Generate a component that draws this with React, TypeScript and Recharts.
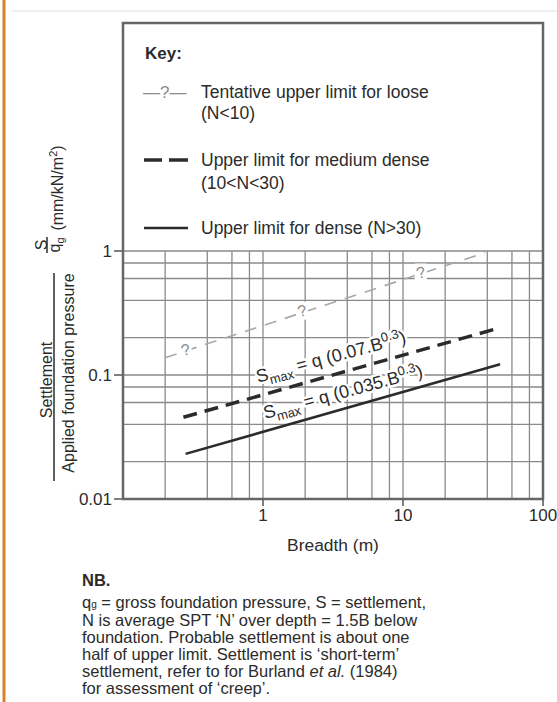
import React from "react";
import {
  ComposedChart,
  Line,
  XAxis,
  YAxis,
  CartesianGrid,
  ReferenceDot,
} from "recharts";

// grid + ticks (log-log)
const xGridValues = [0.2, 0.4, 0.6, 0.8, 1, 2, 4, 6, 8, 10, 20, 40, 60, 80];
const yGridValues = [0.02, 0.04, 0.06, 0.08, 0.1, 0.2, 0.4, 0.6, 0.8, 1];
const xTicks = [1, 10, 100];
const yTicks = [0.01, 0.1, 1];

// upper limit lines (breadth m, S/qg)
const looseLimit = [
  { x: 0.2, y: 0.138 },
  { x: 38.5, y: 0.969 },
];
const mediumLimit = [
  { x: 0.27, y: 0.0456 },
  { x: 45.8, y: 0.235 },
];
const denseLimit = [
  { x: 0.28, y: 0.0231 },
  { x: 49.4, y: 0.122 },
];

// "?" marks along the loose line
const looseQueries = [
  { x: 0.28, y: 0.16 },
  { x: 1.9, y: 0.33 },
  { x: 13.4, y: 0.67 },
];

// formula labels
const formulaLabels = [
  { x: 3.06, y: 0.14, coef: "0.07" },
  { x: 3.73, y: 0.073, coef: "0.035" },
];

const FONT = '"Liberation Sans", Arial, Helvetica, sans-serif';
const INK = "#2b2b2b";
const GRID = "#8a8a8a";

function QueryMark(props: any) {
  const { cx, cy } = props;
  return (
    <g>
      <rect x={cx - 6} y={cy - 9} width={12} height={18} fill="#fff" />
      <text
        x={cx}
        y={cy}
        textAnchor="middle"
        dominantBaseline="central"
        fontSize={16}
        fill="#8c8c8c"
        fontFamily={FONT}
        transform={`rotate(-15 ${cx} ${cy})`}
      >
        ?
      </text>
    </g>
  );
}

function formulaText(coef: string) {
  return [
    "S",
    <tspan key="a" fontSize={13} dy={5}>
      max
    </tspan>,
    <tspan key="b" dy={-5}>{` = q (${coef}.B`}</tspan>,
    <tspan key="c" fontSize={13} dy={-7}>
      0.3
    </tspan>,
    <tspan key="d" dy={7}>
      )
    </tspan>,
  ];
}

function FormulaLabel(props: any) {
  const { cx, cy, coef } = props;
  const common = {
    x: cx,
    y: cy + 6,
    textAnchor: "middle" as const,
    transform: `rotate(-15 ${cx} ${cy})`,
    fontSize: 18,
    fontFamily: FONT,
  };
  return (
    <g>
      <text {...common} fill="#fff" stroke="#fff" strokeWidth={5} strokeLinejoin="round">
        {formulaText(coef)}
      </text>
      <text {...common} fill={INK}>
        {formulaText(coef)}
      </text>
    </g>
  );
}

function Overlay() {
  const t = { fontFamily: FONT, fill: INK };
  return (
    <svg
      width={557}
      height={702}
      style={{ position: "absolute", left: 0, top: 0, pointerEvents: "none" }}
    >
      {/* page frame */}
      <line x1={4} y1={0} x2={4} y2={702} stroke="#d9822b" strokeWidth={3} />
      <line x1={12} y1={11} x2={557} y2={11} stroke="#e8e8e8" strokeWidth={1.5} />

      {/* plot + key outline */}
      <rect x={123} y={23} width={420} height={476} fill="none" stroke="#666" strokeWidth={2.5} />

      {/* key */}
      <text x={145} y={59} fontSize={17} fontWeight="bold" {...t}>
        Key:
      </text>
      <text x={143} y={98} fontSize={17} fill="#8c8c8c" fontFamily={FONT}>
        —?—
      </text>
      <text x={201} y={98} fontSize={17.5} {...t}>
        Tentative upper limit for loose
      </text>
      <text x={201} y={119} fontSize={17.5} {...t}>
        (N&lt;10)
      </text>
      <line x1={144} y1={160} x2={162} y2={160} stroke={INK} strokeWidth={3.5} />
      <line x1={169} y1={160} x2={188} y2={160} stroke={INK} strokeWidth={3.5} />
      <text x={201} y={166} fontSize={17.5} {...t}>
        Upper limit for medium dense
      </text>
      <text x={201} y={189} fontSize={17.5} {...t}>
        (10&lt;N&lt;30)
      </text>
      <line x1={144} y1={228} x2={188} y2={228} stroke={INK} strokeWidth={2.5} />
      <text x={201} y={234} fontSize={17.5} {...t}>
        Upper limit for dense (N&gt;30)
      </text>

      {/* y axis title */}
      <g transform="translate(46 380) rotate(-90)">
        <text x={0} y={6} textAnchor="middle" fontSize={16} {...t}>
          Settlement
        </text>
      </g>
      <line x1={54} y1={273} x2={54} y2={481} stroke={INK} strokeWidth={1.5} />
      <g transform="translate(68 373) rotate(-90)">
        <text x={0} y={6} textAnchor="middle" fontSize={16} {...t}>
          Applied foundation pressure
        </text>
      </g>
      <g transform="translate(41 245) rotate(-90)">
        <text x={0} y={6} textAnchor="middle" fontSize={16} {...t}>
          S
        </text>
      </g>
      <line x1={47} y1={237} x2={47} y2={253} stroke={INK} strokeWidth={1.5} />
      <g transform="translate(54 245) rotate(-90)">
        <text x={0} y={6} textAnchor="middle" fontSize={16} {...t}>
          q<tspan fontSize={11} dy={4}>g</tspan>
        </text>
      </g>
      <g transform="translate(57 188) rotate(-90)">
        <text x={0} y={6} textAnchor="middle" fontSize={16} {...t}>
          (mm/kN/m<tspan fontSize={11} dy={-6}>2</tspan>
          <tspan dy={6}>)</tspan>
        </text>
      </g>

      {/* x axis title */}
      <text x={333} y={551} textAnchor="middle" fontSize={17.4} {...t}>
        Breadth (m)
      </text>

      {/* NB */}
      <text x={82} y={586} fontSize={16.5} fontWeight="bold" {...t}>
        NB.
      </text>
      <text x={82} y={608} fontSize={16.5} {...t}>
        q<tspan fontSize={10}>g</tspan> = gross foundation pressure, S = settlement,
      </text>
      <text x={82} y={626} fontSize={16.5} {...t}>
        N is average SPT ‘N’ over depth = 1.5B below
      </text>
      <text x={82} y={643} fontSize={16.5} {...t}>
        foundation. Probable settlement is about one
      </text>
      <text x={82} y={660} fontSize={16.5} {...t}>
        half of upper limit. Settlement is ‘short-term’
      </text>
      <text x={82} y={677} fontSize={16.5} {...t}>
        settlement, refer to for Burland <tspan fontStyle="italic">et al.</tspan> (1984)
      </text>
      <text x={82} y={694} fontSize={16.5} {...t}>
        for assessment of ‘creep’.
      </text>
    </svg>
  );
}

export default function App() {
  const tickStyle = { fontSize: 17, fill: INK, fontFamily: FONT };
  return (
    <div
      style={{
        position: "absolute",
        left: 0,
        top: 0,
        width: 557,
        height: 702,
        background: "#fff",
        overflow: "hidden",
      }}
    >
      <ComposedChart
        width={557}
        height={702}
        margin={{ top: 251, right: 14, bottom: 173, left: 63 }}
      >
        <CartesianGrid
          horizontalValues={yGridValues}
          verticalValues={xGridValues}
          stroke={GRID}
          strokeWidth={1.3}
        />
        <XAxis
          dataKey="x"
          type="number"
          scale="log"
          domain={[0.1, 100]}
          ticks={xTicks}
          interval={0}
          allowDataOverflow
          axisLine={false}
          tickLine={{ stroke: "#555", strokeWidth: 1.5 }}
          tickSize={7}
          tickMargin={3}
          tick={tickStyle}
          height={30}
        />
        <YAxis
          dataKey="y"
          type="number"
          scale="log"
          domain={[0.01, 1]}
          ticks={yTicks}
          interval={0}
          allowDataOverflow
          axisLine={false}
          tickLine={{ stroke: "#555", strokeWidth: 1.5 }}
          tickSize={9}
          tickMargin={2}
          tick={tickStyle}
          tickFormatter={(v: number) => String(v)}
          width={60}
        />
        <Line
          data={looseLimit}
          dataKey="y"
          type="linear"
          stroke="#a8a8a8"
          strokeWidth={1.6}
          strokeDasharray="12 9"
          dot={false}
          isAnimationActive={false}
        />
        <Line
          data={mediumLimit}
          dataKey="y"
          type="linear"
          stroke={INK}
          strokeWidth={3.5}
          strokeDasharray="14 8"
          dot={false}
          isAnimationActive={false}
        />
        <Line
          data={denseLimit}
          dataKey="y"
          type="linear"
          stroke={INK}
          strokeWidth={2.5}
          dot={false}
          isAnimationActive={false}
        />
        {looseQueries.map((q, i) => (
          <ReferenceDot
            key={`q${i}`}
            x={q.x}
            y={q.y}
            r={0}
            shape={(p: any) => <QueryMark {...p} />}
          />
        ))}
        {formulaLabels.map((f) => (
          <ReferenceDot
            key={f.coef}
            x={f.x}
            y={f.y}
            r={0}
            shape={(p: any) => <FormulaLabel {...p} coef={f.coef} />}
          />
        ))}
      </ComposedChart>
      <Overlay />
    </div>
  );
}
